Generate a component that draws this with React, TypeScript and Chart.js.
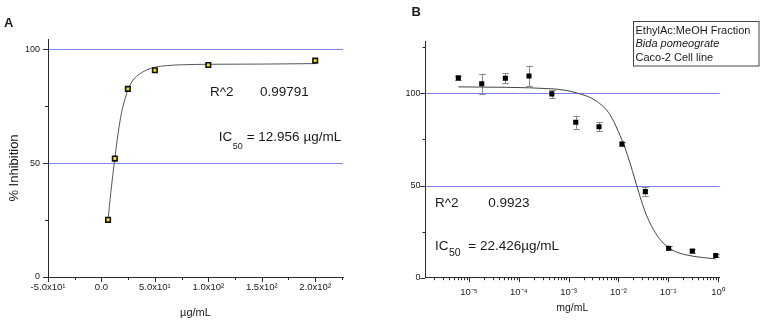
import React, { useEffect, useRef } from 'react';
import { Chart, registerables } from 'chart.js';
Chart.register(...registerables);

const FONT = "'Liberation Sans', Arial, Helvetica, sans-serif";
const BLUE = 'rgb(130,130,255)';
const AXIS = '#2a2a2a';
const TEXT = '#1a1a1a';

// ---------- Panel A ----------
const concA = [6.2, 12.5, 24.7, 50, 100, 200];
const inhibA = [25.1, 52.0, 82.6, 90.8, 93.1, 95.0];
const fitAX = [6.2, 8.7, 12.5, 15.6, 18.7, 21.8, 25, 29.7, 35.9, 42.2, 50, 60.9, 76.5, 100, 154.7, 200];
const fitAY = [25.1, 36.8, 52.0, 63.2, 71.9, 77.8, 82.4, 86.5, 89.2, 90.9, 92.1, 92.8, 93.2, 93.4, 93.5, 93.7];
const xTickValsA = [-50, -25, 0, 25, 50, 75, 100, 125, 150, 175, 200, 225];
const xMajorA = [-50, 0, 50, 100, 150, 200];
const xLabelsA = ['-5.0x10¹', '0.0', '5.0x10¹', '1.0x10²', '1.5x10²', '2.0x10²'];
const yTickValsA = [0, 25, 50, 75, 100];
const yMajorA = [0, 50, 100];
const yLabelsA = ['0', '50', '100'];
const refLinesA = [50, 100];

// ---------- Panel B ----------
const concB = [6.1e-6, 1.8e-5, 5.36e-5, 1.6e-4, 4.6e-4, 1.39e-3, 4.07e-3, 1.18e-2, 3.47e-2, 0.102, 0.305, 0.9];
const respB = [108.4, 105.2, 108.2, 109.4, 99.7, 84.3, 81.9, 72.5, 46.7, 16.0, 14.5, 12.0];
const errB = [1.0, 5.4, 2.6, 5.6, 2.2, 3.6, 2.3, 1.0, 2.3, 1.0, 1.0, 1.0];
const fitBX = [6.1e-6, 4.93e-4, 1.456e-3, 3.66e-3, 6.78e-3, 9.95e-3, 1.358e-2, 1.71e-2, 2.153e-2, 2.716e-2, 3.42e-2, 4.315e-2, 5.875e-2, 7.98e-2, 0.1265, 0.235, 0.507, 0.9];
const fitBY = [103.5, 102.4, 100.2, 95.7, 88.4, 79.3, 70.3, 62.2, 53.1, 44.0, 35.9, 29.6, 23.2, 18.7, 14.7, 12.3, 10.9, 10.2];
const xDecadesB = [1e-6, 1e-5, 1e-4, 1e-3, 1e-2, 1e-1, 1];
const xMajorB = [1e-5, 1e-4, 1e-3, 1e-2, 1e-1, 1];
const xLabelsB = ['10⁻⁵', '10⁻⁴', '10⁻³', '10⁻²', '10⁻¹', '10⁰'];
const xMinB = 1.306e-6;
const xMaxB = 1.07;
const yTickValsB = [0, 25, 50, 75, 100, 125];
const yMajorB = [0, 50, 100];
const yLabelsB = ['0', '50', '100'];
const refLinesB = [50, 100];
const legendLinesB = ['EthylAc:MeOH Fraction', 'Bida pomeograte', 'Caco-2 Cell line'];

function near(a: number, b: number) {
  return Math.abs(a - b) <= 1e-9 * Math.max(Math.abs(a), Math.abs(b)) + 1e-15;
}
function labelFor(v: number, vals: number[], labels: string[]) {
  const i = vals.findIndex((m) => near(m, v));
  return i >= 0 ? labels[i] : '';
}

function drawRefLines(chart: any, lines: number[]) {
  const { ctx, chartArea } = chart;
  const ys = chart.scales.y;
  ctx.save();
  ctx.strokeStyle = BLUE;
  ctx.lineWidth = 1;
  ctx.beginPath();
  for (const v of lines) {
    const py = Math.round(ys.getPixelForValue(v)) + 0.5;
    ctx.moveTo(chartArea.left + 1, py);
    ctx.lineTo(chartArea.right, py);
  }
  ctx.stroke();
  ctx.restore();
}

function drawTickMarks(chart: any, xMajor: number[], yMajor: number[], majorLen: number, minorLen: number) {
  const { ctx } = chart;
  const xs = chart.scales.x;
  const ys = chart.scales.y;
  ctx.save();
  ctx.strokeStyle = AXIS;
  ctx.lineWidth = 1;
  ctx.beginPath();
  for (const t of xs.ticks) {
    const px = Math.round(xs.getPixelForValue(t.value)) + 0.5;
    const len = xMajor.some((m) => near(m, t.value)) ? majorLen : minorLen;
    ctx.moveTo(px, xs.top);
    ctx.lineTo(px, xs.top + len);
  }
  for (const t of ys.ticks) {
    const py = Math.round(ys.getPixelForValue(t.value)) + 0.5;
    const len = yMajor.some((m) => near(m, t.value)) ? majorLen : minorLen;
    ctx.moveTo(ys.right, py);
    ctx.lineTo(ys.right - len, py);
  }
  ctx.stroke();
  ctx.restore();
}

function drawIC(ctx: any, x: number, y: number, subSize: number, subDy: number, restX: number, rest: string) {
  ctx.font = `13.5px ${FONT}`;
  ctx.textBaseline = 'middle';
  ctx.textAlign = 'left';
  ctx.fillText('IC', x, y);
  const w = ctx.measureText('IC').width;
  ctx.font = `${subSize}px ${FONT}`;
  ctx.fillText('50', x + w + 0.5, y + subDy);
  ctx.font = `13.5px ${FONT}`;
  ctx.fillText(rest, restX, y);
}

const extrasA = {
  id: 'extrasA',
  beforeDatasetsDraw(chart: any) {
    drawRefLines(chart, refLinesA);
  },
  afterDraw(chart: any) {
    drawTickMarks(chart, xMajorA, yMajorA, 5, 3);
    const { ctx } = chart;
    ctx.save();
    ctx.fillStyle = TEXT;
    ctx.font = `bold 13px ${FONT}`;
    ctx.textBaseline = 'alphabetic';
    ctx.textAlign = 'left';
    ctx.fillText('A', 4, 27);
    ctx.font = `13.5px ${FONT}`;
    ctx.textBaseline = 'middle';
    ctx.fillText('R^2', 210, 92);
    ctx.fillText('0.99791', 260, 92);
    drawIC(ctx, 218.7, 137.5, 9, 9, 246.7, '= 12.956 µg/mL');
    ctx.translate(14, 168);
    ctx.rotate(-Math.PI / 2);
    ctx.font = `13px ${FONT}`;
    ctx.textAlign = 'center';
    ctx.textBaseline = 'middle';
    ctx.fillText('% Inhibition', 0, 0);
    ctx.restore();
  },
};

const extrasB = {
  id: 'extrasB',
  beforeDatasetsDraw(chart: any) {
    drawRefLines(chart, refLinesB);
    const { ctx } = chart;
    const xs = chart.scales.x;
    const ys = chart.scales.y;
    ctx.save();
    ctx.strokeStyle = '#8a8a8a';
    ctx.lineWidth = 1;
    ctx.beginPath();
    for (let i = 0; i < concB.length; i++) {
      const px = Math.round(xs.getPixelForValue(concB[i])) + 0.5;
      const t = ys.getPixelForValue(respB[i] + errB[i]);
      const b = ys.getPixelForValue(respB[i] - errB[i]);
      ctx.moveTo(px, t);
      ctx.lineTo(px, b);
      ctx.moveTo(px - 3.3, Math.round(t) + 0.5);
      ctx.lineTo(px + 3.3, Math.round(t) + 0.5);
      ctx.moveTo(px - 3.3, Math.round(b) + 0.5);
      ctx.lineTo(px + 3.3, Math.round(b) + 0.5);
    }
    ctx.stroke();
    ctx.restore();
  },
  afterDraw(chart: any) {
    drawTickMarks(chart, xMajorB, yMajorB, 4.5, 2.5);
    const { ctx } = chart;
    ctx.save();
    ctx.fillStyle = TEXT;
    ctx.font = `bold 13px ${FONT}`;
    ctx.textBaseline = 'alphabetic';
    ctx.textAlign = 'left';
    ctx.fillText('B', 31.5, 16);
    ctx.font = `13.5px ${FONT}`;
    ctx.textBaseline = 'middle';
    ctx.fillText('R^2', 55, 203.5);
    ctx.fillText('0.9923', 108.3, 203.5);
    drawIC(ctx, 55, 246.7, 10.5, 6, 88.3, '= 22.426µg/mL');
    // legend box
    ctx.strokeStyle = '#444';
    ctx.lineWidth = 1;
    ctx.strokeRect(253.5, 21.5, 125.5, 44.5);
    const ys = [30.7, 44, 57.7];
    legendLinesB.forEach((s, i) => {
      ctx.font = (i === 1 ? 'italic ' : '') + `11px ${FONT}`;
      ctx.textBaseline = 'middle';
      ctx.fillText(s, 255.5, ys[i]);
    });
    ctx.restore();
  },
};

function makeA(canvas: HTMLCanvasElement) {
  return new Chart(canvas, {
    type: 'scatter',
    data: {
      datasets: [
        {
          label: 'data',
          data: concA.map((x, i) => ({ x, y: inhibA[i] })),
          pointStyle: 'rect',
          pointRadius: 3.2,
          backgroundColor: '#f0e400',
          borderColor: '#111',
          borderWidth: 1.6,
          showLine: false,
        },
        {
          label: 'fit',
          data: fitAX.map((x, i) => ({ x, y: fitAY[i] })),
          showLine: true,
          borderColor: '#555',
          borderWidth: 1,
          pointRadius: 0,
          cubicInterpolationMode: 'monotone',
          fill: false,
        },
      ],
    } as any,
    options: {
      responsive: false,
      animation: false,
      events: [],
      layout: { padding: { left: 0, top: 39, right: 37, bottom: 0 } },
      plugins: { legend: { display: false }, tooltip: { enabled: false }, title: { display: false } },
      scales: {
        x: {
          type: 'linear',
          min: -50,
          max: 226,
          bounds: 'data',
          afterBuildTicks: (s: any) => {
            s.ticks = xTickValsA.map((v) => ({ value: v }));
          },
          afterFit: (s: any) => {
            s.height = 45;
          },
          grid: { drawTicks: false, color: 'rgba(0,0,0,0)' },
          border: { display: true, color: AXIS, width: 1 },
          ticks: {
            autoSkip: false,
            maxRotation: 0,
            minRotation: 0,
            padding: 5,
            color: TEXT,
            font: { family: FONT, size: 9.5 },
            callback: (v: any) => labelFor(Number(v), xMajorA, xLabelsA),
          },
          title: {
            display: true,
            text: 'µg/mL',
            color: TEXT,
            font: { family: FONT, size: 11 },
            padding: { top: 0, bottom: 2.4 },
          },
        },
        y: {
          type: 'linear',
          min: 0,
          max: 104.5,
          bounds: 'data',
          afterBuildTicks: (s: any) => {
            s.ticks = yTickValsA.map((v) => ({ value: v }));
          },
          afterFit: (s: any) => {
            s.width = 48;
          },
          grid: { drawTicks: false, color: 'rgba(0,0,0,0)' },
          border: { display: true, color: AXIS, width: 1 },
          ticks: {
            autoSkip: false,
            padding: 8,
            color: TEXT,
            font: { family: FONT, size: 9 },
            callback: (v: any) => labelFor(Number(v), yMajorA, yLabelsA),
          },
        },
      },
    } as any,
    plugins: [extrasA],
  });
}

function makeB(canvas: HTMLCanvasElement) {
  const xTickValsB: number[] = [];
  for (const d of xDecadesB) {
    for (let m = 1; m <= 9; m++) {
      const v = m * d;
      if (v >= xMinB && v <= xMaxB) xTickValsB.push(v);
    }
  }
  return new Chart(canvas, {
    type: 'scatter',
    data: {
      datasets: [
        {
          label: 'data',
          data: concB.map((x, i) => ({ x, y: respB[i] })),
          pointStyle: 'rect',
          pointRadius: 3.6,
          backgroundColor: '#000',
          borderColor: '#000',
          borderWidth: 0,
          showLine: false,
        },
        {
          label: 'fit',
          data: fitBX.map((x, i) => ({ x, y: fitBY[i] })),
          showLine: true,
          borderColor: '#444',
          borderWidth: 1,
          pointRadius: 0,
          cubicInterpolationMode: 'monotone',
          fill: false,
        },
      ],
    } as any,
    options: {
      responsive: false,
      animation: false,
      events: [],
      layout: { padding: { left: 0, top: 41.7, right: 43.5, bottom: 0 } },
      plugins: { legend: { display: false }, tooltip: { enabled: false }, title: { display: false } },
      scales: {
        x: {
          type: 'logarithmic',
          min: xMinB,
          max: xMaxB,
          bounds: 'data',
          afterBuildTicks: (s: any) => {
            s.ticks = xTickValsB.map((v) => ({ value: v }));
          },
          afterFit: (s: any) => {
            s.height = 44.3;
          },
          grid: { drawTicks: false, color: 'rgba(0,0,0,0)' },
          border: { display: true, color: AXIS, width: 1 },
          ticks: {
            autoSkip: false,
            maxRotation: 0,
            minRotation: 0,
            padding: 8.6,
            color: TEXT,
            font: { family: FONT, size: 9.5 },
            callback: (v: any) => labelFor(Number(v), xMajorB, xLabelsB),
          },
          title: {
            display: true,
            text: 'mg/mL',
            color: TEXT,
            font: { family: FONT, size: 10.5 },
            padding: { top: 0, bottom: 7.4 },
          },
        },
        y: {
          type: 'linear',
          min: 0,
          max: 128,
          bounds: 'data',
          afterBuildTicks: (s: any) => {
            s.ticks = yTickValsB.map((v) => ({ value: v }));
          },
          afterFit: (s: any) => {
            s.width = 45;
          },
          grid: { drawTicks: false, color: 'rgba(0,0,0,0)' },
          border: { display: true, color: AXIS, width: 1 },
          ticks: {
            autoSkip: false,
            padding: 4.5,
            color: TEXT,
            font: { family: FONT, size: 9 },
            callback: (v: any) => labelFor(Number(v), yMajorB, yLabelsB),
          },
        },
      },
    } as any,
    plugins: [extrasB],
  });
}

export default function App() {
  const refA = useRef<HTMLCanvasElement>(null);
  const refB = useRef<HTMLCanvasElement>(null);
  useEffect(() => {
    Chart.defaults.font.family = FONT;
    const a = makeA(refA.current as HTMLCanvasElement);
    const b = makeB(refB.current as HTMLCanvasElement);
    return () => {
      a.destroy();
      b.destroy();
    };
  }, []);
  return (
    <div style={{ position: 'fixed', left: 0, top: 0, width: 763, height: 322, background: '#fff' }}>
      <canvas
        ref={refA}
        width={380}
        height={322}
        style={{ position: 'absolute', left: 0, top: 0, width: 380, height: 322 }}
      />
      <canvas
        ref={refB}
        width={383}
        height={322}
        style={{ position: 'absolute', left: 380, top: 0, width: 383, height: 322 }}
      />
    </div>
  );
}
